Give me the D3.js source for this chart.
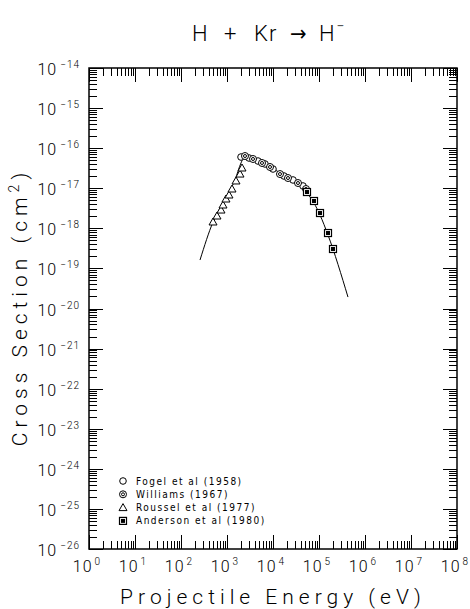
<!DOCTYPE html>
<html>
<head>
<meta charset="utf-8">
<script src="https://cdn.jsdelivr.net/npm/d3@7"></script>
<style>
  html, body { margin: 0; padding: 0; background: #fff; }
  svg { display: block; }
  text { font-family: "Liberation Sans Narrow", "DejaVu Sans Condensed", "Liberation Sans", sans-serif; fill: #000; }
  text.light { font-family: "Roboto", "Open Sans", "DejaVu Sans Condensed", sans-serif; font-weight: 300; }
</style>
</head>
<body>
<svg id="chart" width="470" height="609"></svg>
<script>
// ---- Data ----
const xTickExps = ["0","1","2","3","4","5","6","7","8"];
const yTickExps = ["-14","-15","-16","-17","-18","-19","-20","-21","-22","-23","-24","-25","-26"];

// Fitted curve
const curveE     = [259, 497, 861, 1492, 2015, 2462, 3494, 6700, 14190, 30070, 54830, 77840, 105200, 157000, 426600];
const curveSigma = [1.62e-19, 1.44e-18, 4.81e-18, 1.61e-17, 4.27e-17, 6.37e-17, 6.01e-17, 4.27e-17, 2.40e-17, 1.43e-17, 7.60e-18, 4.28e-18, 2.15e-18, 6.81e-19, 1.93e-20];

// Fogel et al (1958)
const fogelE     = [2015, 3008, 4720, 6700, 10000, 17340, 27220, 44880];
const fogelSigma = [6.01e-17, 5.68e-17, 4.78e-17, 4.03e-17, 3.02e-17, 2.02e-17, 1.61e-17, 1.14e-17];

// Williams (1967)
const williamsE     = [2462, 3675, 5768, 8606, 14190, 21180, 34930, 52130];
const williamsSigma = [6.37e-17, 5.37e-17, 4.27e-17, 3.39e-17, 2.26e-17, 1.80e-17, 1.35e-17, 9.57e-18];

// Roussel et al (1977)
const rousselE     = [497, 606, 741, 819, 951, 1105, 1285, 1570, 1918, 2120];
const rousselSigma = [1.44e-18, 2.03e-18, 2.86e-18, 3.82e-18, 5.39e-18, 6.78e-18, 9.57e-18, 1.52e-17, 2.26e-17, 3.20e-17];

// Anderson et al (1980)
const andersonE     = [54830, 77840, 105200, 157000, 201400];
const andersonSigma = [8.05e-18, 4.81e-18, 2.41e-18, 7.64e-19, 3.05e-19];

const legendLabels = ["Fogel et al (1958)", "Williams (1967)", "Roussel et al (1977)", "Anderson et al (1980)"];
const legendKinds  = ["circle", "circledot", "triangle", "square"];

// ---- Layout ----
const L = 89, R = 457, T = 68, B = 549;
const svg = d3.select("#chart");
const x = d3.scaleLog().domain([1, 1e8]).range([L, R]);
const y = d3.scaleLog().domain([1e-26, 1e-14]).range([B, T]);

const xMajors = xTickExps.map(e => Math.pow(10, +e));
const yMajors = yTickExps.map(e => Math.pow(10, +e));
const xMinors = [], yMinors = [];
for (let i = 0; i < 8; i++) for (let k = 2; k <= 9; k++) xMinors.push(k * Math.pow(10, i));
for (let i = -26; i < -14; i++) for (let k = 2; k <= 9; k++) yMinors.push(k * Math.pow(10, i));

function styleAxis(g) {
  g.select(".domain").remove();
  g.selectAll("line").attr("stroke", "#000").attr("stroke-width", 1).attr("shape-rendering", "crispEdges");
  g.selectAll("text").remove();
}
const MJ = 14, MN = 8;
svg.append("g").attr("transform", `translate(0,${B})`).call(d3.axisBottom(x).tickValues(xMajors).tickSize(-MJ).tickFormat("")).call(styleAxis);
svg.append("g").attr("transform", `translate(0,${B})`).call(d3.axisBottom(x).tickValues(xMinors).tickSize(-MN).tickFormat("")).call(styleAxis);
svg.append("g").attr("transform", `translate(0,${T})`).call(d3.axisTop(x).tickValues(xMajors).tickSize(-MJ).tickFormat("")).call(styleAxis);
svg.append("g").attr("transform", `translate(0,${T})`).call(d3.axisTop(x).tickValues(xMinors).tickSize(-MN).tickFormat("")).call(styleAxis);
svg.append("g").attr("transform", `translate(${L},0)`).call(d3.axisLeft(y).tickValues(yMajors).tickSize(-MJ).tickFormat("")).call(styleAxis);
svg.append("g").attr("transform", `translate(${L},0)`).call(d3.axisLeft(y).tickValues(yMinors).tickSize(-MN).tickFormat("")).call(styleAxis);
svg.append("g").attr("transform", `translate(${R},0)`).call(d3.axisRight(y).tickValues(yMajors).tickSize(-MJ).tickFormat("")).call(styleAxis);
svg.append("g").attr("transform", `translate(${R},0)`).call(d3.axisRight(y).tickValues(yMinors).tickSize(-MN).tickFormat("")).call(styleAxis);

// frame
svg.append("rect").attr("x", L).attr("y", T).attr("width", R - L).attr("height", B - T)
  .attr("fill", "none").attr("stroke", "#000").attr("stroke-width", 1.5);

// tick labels
xTickExps.forEach(e => {
  const t = svg.append("text").attr("class", "light").attr("x", x(Math.pow(10, +e)) - 2).attr("y", 572)
    .attr("text-anchor", "middle").attr("font-size", 16).attr("letter-spacing", 1);
  t.append("tspan").text("10");
  t.append("tspan").attr("dy", -7).attr("font-size", 10).attr("dx", 2).text(e);
});
yTickExps.forEach(e => {
  const t = svg.append("text").attr("class", "light").attr("x", 80).attr("y", y(Math.pow(10, +e)) + 7)
    .attr("text-anchor", "end").attr("font-size", 16).attr("letter-spacing", 1);
  t.append("tspan").text("10");
  t.append("tspan").attr("dy", -7).attr("font-size", 10).attr("dx", 3).text("\u2212" + e.slice(1));
});

// axis titles
svg.append("text").attr("class", "light").attr("x", 273).attr("y", 604).attr("text-anchor", "middle")
  .attr("font-size", 21).attr("letter-spacing", 5).text("Projectile Energy (eV)");
const yt = svg.append("text").attr("class", "light").attr("transform", "translate(27,307) rotate(-90)")
  .attr("text-anchor", "middle").attr("font-size", 21).attr("letter-spacing", 5);
yt.append("tspan").text("Cross Section (cm");
yt.append("tspan").attr("dy", -8).attr("font-size", 14).text("2");
yt.append("tspan").attr("dy", 8).text(")");

// title (pieces positioned to match spacing)
const tt = svg.append("text").attr("class", "light").attr("y", 41).attr("font-size", 22);
tt.append("tspan").attr("x", 192).text("H");
tt.append("tspan").attr("x", 224).text("+");
tt.append("tspan").attr("x", 254).attr("letter-spacing", 1).text("Kr");
tt.append("tspan").attr("x", 290).text("\u2192");
tt.append("tspan").attr("x", 319).text("H");
tt.append("tspan").attr("dy", -10).attr("dx", 2).attr("font-size", 14).text("\u2212");

// curve
const line = d3.line().x(d => x(d[0])).y(d => y(d[1])).curve(d3.curveMonotoneX);
svg.append("path").datum(curveE.map((e, i) => [e, curveSigma[i]]))
  .attr("d", line).attr("fill", "none").attr("stroke", "#000").attr("stroke-width", 1);

// symbols
function drawSym(g, kind, cx, cy) {
  if (kind === "circle") {
    g.append("circle").attr("cx", cx).attr("cy", cy).attr("r", 3.3).attr("fill", "#fff").attr("stroke", "#000").attr("stroke-width", 1);
  } else if (kind === "circledot") {
    g.append("circle").attr("cx", cx).attr("cy", cy).attr("r", 3.5).attr("fill", "#fff").attr("stroke", "#000").attr("stroke-width", 1);
    g.append("circle").attr("cx", cx).attr("cy", cy).attr("r", 1.5).attr("fill", "none").attr("stroke", "#000").attr("stroke-width", 1);
  } else if (kind === "triangle") {
    const s = 4;
    g.append("path").attr("d", `M${cx},${cy - s}L${cx + s},${cy + s * 0.75}L${cx - s},${cy + s * 0.75}Z`)
      .attr("fill", "#fff").attr("stroke", "#000").attr("stroke-width", 1);
  } else if (kind === "square") {
    const s = 3.5;
    g.append("rect").attr("x", cx - s).attr("y", cy - s).attr("width", 2 * s).attr("height", 2 * s)
      .attr("fill", "#fff").attr("stroke", "#000").attr("stroke-width", 1.2);
    g.append("rect").attr("x", cx - s + 1.5).attr("y", cy - s + 1.5).attr("width", 2 * s - 3).attr("height", 2 * s - 3)
      .attr("fill", "#000");
  }
}
const sets = [
  [rousselE, rousselSigma, "triangle"],
  [fogelE, fogelSigma, "circle"],
  [williamsE, williamsSigma, "circledot"],
  [andersonE, andersonSigma, "square"]
];
const gp = svg.append("g");
sets.forEach(([E, S, kind]) => E.forEach((e, i) => drawSym(gp, kind, x(e), y(S[i]))));

// legend
const lg = svg.append("g");
legendLabels.forEach((lab, i) => {
  const ly = 481 + i * 13.3;
  drawSym(lg, legendKinds[i], 123, ly);
  lg.append("text").attr("x", 136).attr("y", ly + 3.5).attr("font-size", 10).attr("letter-spacing", 1.5).text(lab);
});
</script>
</body>
</html>
